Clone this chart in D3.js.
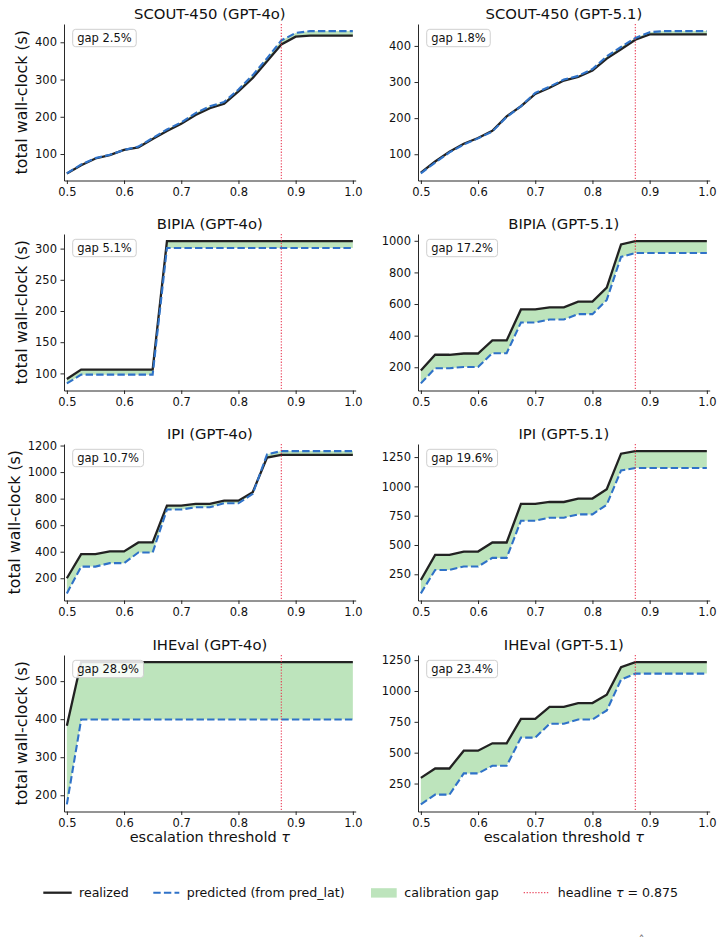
<!DOCTYPE html>
<html>
<head>
<meta charset="utf-8">
<script src="https://cdn.jsdelivr.net/npm/d3@7"></script>
<style>
  body { margin: 0; background: #fff; }
  text { font-family: "DejaVu Sans", sans-serif; fill: #111; }
</style>
</head>
<body>
<div id="chart"></div>
<script>
// escalation thresholds (x axis)
var taus = [0.5, 0.525, 0.55, 0.575, 0.6, 0.625, 0.65, 0.675, 0.7, 0.725, 0.75,
            0.775, 0.8, 0.825, 0.85, 0.875, 0.9, 0.925, 0.95, 0.975, 1.0];
var xTicks = [0.5, 0.6, 0.7, 0.8, 0.9, 1.0];
var headlineTau = 0.875;

var titles = ["SCOUT-450 (GPT-4o)", "SCOUT-450 (GPT-5.1)", "BIPIA (GPT-4o)", "BIPIA (GPT-5.1)",
              "IPI (GPT-4o)", "IPI (GPT-5.1)", "IHEval (GPT-4o)", "IHEval (GPT-5.1)"];
var gapLabels = ["gap 2.5%", "gap 1.8%", "gap 5.1%", "gap 17.2%",
                 "gap 10.7%", "gap 19.6%", "gap 28.9%", "gap 23.4%"];

// realized / predicted total wall-clock (s)
var scout4oReal = [48, 70, 88, 97, 111, 118, 140, 162, 181, 205, 223, 235, 268, 304, 349, 394, 415, 418, 418, 418, 418];
var scout4oPred = [48, 72, 89, 98, 111, 120, 143, 166, 185, 210, 228, 240, 273, 312, 357, 405, 425, 430, 430, 430, 430];
var scout51Real = [49, 80, 107, 129, 145, 165, 205, 233, 267, 284, 304, 314, 332, 365, 391, 417, 432, 432, 432, 432, 432];
var scout51Pred = [47, 77, 105, 127, 144, 163, 203, 233, 270, 287, 307, 317, 336, 371, 397, 422, 438, 441, 441, 441, 441];
var bipia4oReal = [91, 106, 106, 106, 106, 106, 106, 312, 312, 312, 312, 312, 312, 312, 312, 312, 312, 312, 312, 312, 312];
var bipia4oPred = [84, 98, 98, 98, 98, 98, 98, 301, 301, 301, 301, 301, 301, 301, 301, 301, 301, 301, 301, 301, 301];
var bipia51Real = [179, 279, 279, 287, 287, 370, 370, 566, 566, 579, 579, 615, 615, 704, 977, 998, 998, 998, 998, 998, 998];
var bipia51Pred = [98, 194, 194, 202, 202, 289, 289, 483, 483, 502, 502, 536, 536, 626, 898, 923, 923, 923, 923, 923, 923];
var ipi4oReal = [200, 382, 382, 402, 402, 470, 470, 748, 748, 760, 760, 785, 785, 849, 1109, 1129, 1129, 1129, 1129, 1129, 1129];
var ipi4oPred = [86, 288, 288, 314, 314, 394, 394, 718, 718, 735, 735, 765, 765, 836, 1134, 1158, 1158, 1158, 1158, 1158, 1158];
var ipi51Real = [201, 416, 416, 444, 444, 521, 521, 850, 850, 867, 867, 896, 896, 976, 1279, 1301, 1301, 1301, 1301, 1301, 1301];
var ipi51Pred = [87, 287, 287, 316, 316, 390, 390, 707, 707, 733, 733, 761, 761, 844, 1136, 1157, 1157, 1157, 1157, 1157, 1157];
var iheval4oReal = [383, 550, 550, 550, 550, 550, 550, 550, 550, 550, 550, 550, 550, 550, 550, 550, 550, 550, 550, 550, 550];
var iheval4oPred = [176, 399, 399, 399, 399, 399, 399, 399, 399, 399, 399, 399, 399, 399, 399, 399, 399, 399, 399, 399, 399];
var iheval51Real = [296, 372, 372, 516, 516, 576, 576, 774, 774, 872, 872, 902, 902, 970, 1193, 1234, 1234, 1234, 1234, 1234, 1234];
var iheval51Pred = [81, 160, 160, 332, 332, 394, 394, 622, 622, 734, 734, 769, 769, 842, 1092, 1141, 1141, 1141, 1141, 1141, 1141];

var realized = [scout4oReal, scout51Real, bipia4oReal, bipia51Real, ipi4oReal, ipi51Real, iheval4oReal, iheval51Real];
var predicted = [scout4oPred, scout51Pred, bipia4oPred, bipia51Pred, ipi4oPred, ipi51Pred, iheval4oPred, iheval51Pred];

// y tick values per panel
var yTicks = [
  [100, 200, 300, 400], [100, 200, 300, 400],
  [100, 150, 200, 250, 300], [200, 400, 600, 800, 1000],
  [200, 400, 600, 800, 1000, 1200], [250, 500, 750, 1000, 1250],
  [200, 300, 400, 500], [250, 500, 750, 1000, 1250]
];

// layout
var width = 722, height = 938;
var colX = [64, 418], rowY = [24, 234, 444, 655];
var plotW = 291.7, plotH = 156.5;
var realColor = "#222222", predColor = "#2f72c8", gapColor = "#bde4bc", tauColor = "#e8304a";

var svg = d3.select("#chart").append("svg")
  .attr("width", width)
  .attr("height", height);

titles.forEach(function (title, i) {
  var col = i % 2, row = Math.floor(i / 2);
  var g = svg.append("g").attr("transform", `translate(${colX[col]},${rowY[row]})`);

  var x = d3.scaleLinear().domain([0.495, 1.005]).range([0, plotW]);
  var all = realized[i].concat(predicted[i]);
  var lo = d3.min(all), hi = d3.max(all), pad = (hi - lo) * 0.05;
  var y = d3.scaleLinear().domain([lo - pad, hi + pad]).range([plotH, 0]);

  var rows = taus.map(function (t, k) {
    return { t: t, real: realized[i][k], pred: predicted[i][k] };
  });

  // calibration gap
  g.append("path")
    .datum(rows)
    .attr("fill", gapColor)
    .attr("d", d3.area()
      .x(function (d) { return x(d.t); })
      .y0(function (d) { return y(d.pred); })
      .y1(function (d) { return y(d.real); }));

  // realized
  g.append("path")
    .datum(rows)
    .attr("fill", "none")
    .attr("stroke", realColor)
    .attr("stroke-width", 2.3)
    .attr("d", d3.line().x(function (d) { return x(d.t); }).y(function (d) { return y(d.real); }));

  // predicted
  g.append("path")
    .datum(rows)
    .attr("fill", "none")
    .attr("stroke", predColor)
    .attr("stroke-width", 2.1)
    .attr("stroke-dasharray", "7.4,3.2")
    .attr("d", d3.line().x(function (d) { return x(d.t); }).y(function (d) { return y(d.pred); }));

  // headline tau
  g.append("line")
    .attr("x1", x(headlineTau)).attr("x2", x(headlineTau))
    .attr("y1", 0).attr("y2", plotH)
    .attr("stroke", tauColor)
    .attr("stroke-opacity", 0.85)
    .attr("stroke-width", 1.2)
    .attr("stroke-dasharray", "1.3,1.6");

  // axes
  var xAxis = g.append("g")
    .attr("transform", `translate(0,${plotH})`)
    .call(d3.axisBottom(x).tickValues(xTicks).tickFormat(d3.format(".1f"))
      .tickSize(3.5).tickPadding(3.5).tickSizeOuter(0));
  var yAxis = g.append("g")
    .call(d3.axisLeft(y).tickValues(yTicks[i]).tickFormat(d3.format("d"))
      .tickSize(3.5).tickPadding(3.5).tickSizeOuter(0));
  [xAxis, yAxis].forEach(function (a) {
    a.attr("font-size", 11.5).attr("font-family", "DejaVu Sans");
    a.selectAll("text").style("fill", "#111");
    a.selectAll("line, path").attr("stroke", "#111").attr("stroke-width", 0.9);
  });

  // title
  g.append("text")
    .attr("x", plotW / 2)
    .attr("y", -5.5)
    .attr("text-anchor", "middle")
    .style("font-size", "14.8px")
    .text(title);

  if (col === 0) {
    var tb = yAxis.node().getBBox();
    g.append("text")
      .attr("transform", `translate(${tb.x - 8},${plotH / 2}) rotate(-90)`)
      .attr("text-anchor", "middle")
      .style("font-size", "15.8px")
      .text("total wall-clock (s)");
  }

  if (row === 3) {
    var xl = g.append("text")
      .attr("x", plotW / 2)
      .attr("y", plotH + 30.5)
      .attr("text-anchor", "middle")
      .style("font-size", "14.5px");
    xl.append("tspan").text("escalation threshold ");
    xl.append("tspan").style("font-style", "italic").text("τ");
  }

  // gap label box
  var box = g.append("g").attr("transform", "translate(8.7,5.3)");
  var rect = box.append("rect");
  var label = box.append("text")
    .attr("x", 4.5)
    .attr("y", 12.8)
    .style("font-size", "11.5px")
    .text(gapLabels[i]);
  var w = label.node().getComputedTextLength();
  rect.attr("width", w + 9).attr("height", 17.4)
    .attr("rx", 3)
    .attr("fill", "#fff").attr("fill-opacity", 0.85)
    .attr("stroke", "#cfcfcf").attr("stroke-width", 1);
});

// legend
var legend = svg.append("g").attr("transform", "translate(0,892.7)");
legend.append("line").attr("x1", 43.3).attr("x2", 71.7)
  .attr("stroke", realColor).attr("stroke-width", 2.3);
legend.append("text").attr("x", 79).attr("y", 4.5).style("font-size", "12.6px").text("realized");

legend.append("line").attr("x1", 153.3).attr("x2", 179.3)
  .attr("stroke", predColor).attr("stroke-width", 2.1).attr("stroke-dasharray", "7.4,3.2");
legend.append("text").attr("x", 186.7).attr("y", 4.5).style("font-size", "12.6px").text("predicted (from pred_lat)");

legend.append("rect").attr("x", 371).attr("y", -4.5).attr("width", 25.7).attr("height", 9.4)
  .attr("fill", gapColor);
legend.append("text").attr("x", 404.3).attr("y", 4.5).style("font-size", "12.6px").text("calibration gap");

legend.append("line").attr("x1", 523.7).attr("x2", 549.3)
  .attr("stroke", tauColor).attr("stroke-opacity", 0.85).attr("stroke-width", 1.2).attr("stroke-dasharray", "1.3,1.6");
var ht = legend.append("text").attr("x", 557.7).attr("y", 4.5).style("font-size", "12.6px");
ht.append("tspan").text("headline ");
ht.append("tspan").style("font-style", "italic").text("τ");
ht.append("tspan").text(" = 0.875");

// caption clipped by the bottom edge, as in the original
svg.append("text").attr("x", 638).attr("y", 945).style("font-size", "12px").style("fill", "#777").text("τ̂");
</script>
</body>
</html>
